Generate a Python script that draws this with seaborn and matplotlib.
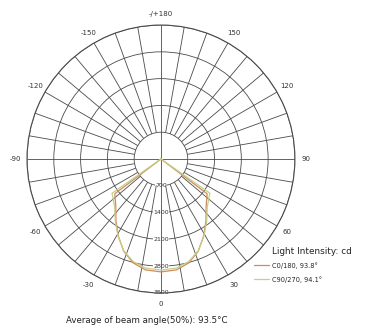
import numpy as np
import pandas as pd
import matplotlib
matplotlib.use("Agg")
import matplotlib.pyplot as plt
import seaborn as sns

# light distribution (cd vs angle in degrees, symmetric)
angles_c0 = [0, 8, 15, 22, 29, 36, 44, 53, 53.5]
cd_c0 = [2950, 2925, 2810, 2600, 2300, 2000, 1700, 1510, 0]
angles_c90 = [0, 8, 15, 22, 29, 36, 44, 55, 55.5]
cd_c90 = [2900, 2880, 2780, 2590, 2310, 2030, 1740, 1560, 0]

ring_values = [700, 1400, 2100, 2800, 3500]
tick_angles = [0, 30, 60, 90, 120, 150, 180, 210, 240, 270, 300, 330]
tick_labels = ["0", "30", "60", "90", "120", "150", "-/+180",
               "-150", "-120", "-90", "-60", "-30"]

series_names = ["C0/180, 93.8°", "C90/270, 94.1°"]
series_colors = ["#d08a60", "#c5cf85"]


def mirrored(angles, values, name):
    a = np.array(angles, dtype=float)
    v = np.array(values, dtype=float)
    full_a = np.concatenate([-a[::-1], a[1:]])
    full_v = np.concatenate([v[::-1], v[1:]])
    return pd.DataFrame({"theta": np.deg2rad(full_a), "cd": full_v, "series": name})


df = pd.concat([mirrored(angles_c0, cd_c0, series_names[0]),
                mirrored(angles_c90, cd_c90, series_names[1])])

sns.set_theme(style="white")
plt.rcParams["font.family"] = ["DejaVu Sans"]

fig = plt.figure(figsize=(3.67, 3.29), dpi=100)
ax = fig.add_axes([0.0736, 0.1094, 0.730, 0.8146], projection="polar")
ax.set_theta_zero_location("S")
ax.set_theta_direction(1)

# spokes: every 10 deg outside the first ring, only the main axes inside it
grid_col = "#4a4a4a"
spokes = np.deg2rad(np.arange(0, 360, 10))
ax.vlines(spokes, ring_values[0], ring_values[-1], color=grid_col, lw=0.6, zorder=1)
ax.vlines(np.deg2rad([0, 90, 180, 270]), 0, ring_values[0], color=grid_col, lw=0.6, zorder=1)

for name, color in zip(series_names, series_colors):
    sub = df[df["series"] == name]
    sns.lineplot(x=sub["theta"], y=sub["cd"], ax=ax, color=color, lw=0.9,
                 sort=False, label=name, legend=False, zorder=3)

ax.set_ylim(0, 3500)
ax.set_rgrids(ring_values, labels=[str(v) for v in ring_values], angle=0,
              fontsize=4.5, color="#333333")
for lab in ax.get_yticklabels():
    lab.set_bbox(dict(facecolor="white", edgecolor="none", pad=0.3))
    lab.set_horizontalalignment("center")
    lab.set_verticalalignment("center")
    lab.set_zorder(4)
ax.set_thetagrids(tick_angles, labels=tick_labels, fontsize=5, color="#333333")
ax.tick_params(axis="x", pad=-5)
ax.xaxis.grid(False)
ax.yaxis.grid(True, color=grid_col, lw=0.6)
ax.spines["polar"].set_color(grid_col)
ax.spines["polar"].set_linewidth(0.8)
ax.set_xlabel("")
ax.set_ylabel("")

handles = [ln for ln in ax.get_lines() if ln.get_label() in series_names]
fig.text(272 / 367, 1 - 251 / 329, "Light Intensity: cd", fontsize=6.4,
         ha="left", va="center", color="#222222")
leg = fig.legend(handles, series_names, loc="upper left",
                 bbox_to_anchor=(254 / 367, 1 - 262 / 329), frameon=False,
                 fontsize=4.8, handlelength=2.3, handletextpad=0.45,
                 labelspacing=1.1, borderpad=0, borderaxespad=0)

fig.text(0.40, 0.012, "Average of beam angle(50%): 93.5°C", fontsize=6.2,
         ha="center", va="bottom", color="#222222")

fig.savefig("out.png", dpi=100)
